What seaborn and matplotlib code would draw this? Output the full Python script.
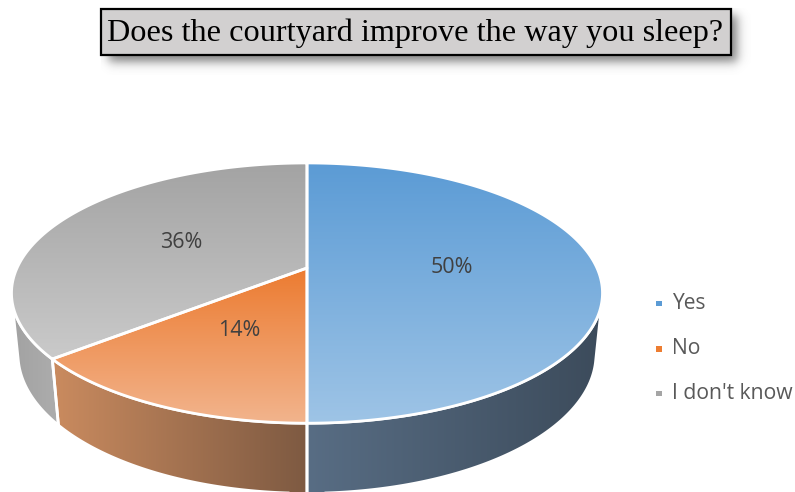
import numpy as np
import matplotlib
matplotlib.use("Agg")
import matplotlib.pyplot as plt
import seaborn as sns
from matplotlib.patches import Polygon, Rectangle

# Survey answers
categories = ["Yes", "No", "I don't know"]
shares = [50, 14, 36]
value_labels = ["50%", "14%", "36%"]
title = "Does the courtyard improve the way you sleep?"

# Colours: top-face gradient (upper -> lower) and side gradient (left -> right)
top_upper = ["#5B9BD5", "#EC7B30", "#A3A3A3"]
top_lower = ["#9EC4E6", "#F2B48D", "#CACACA"]
side_left = ["#586D84", "#CA8B5F", "#A2A2A2"]
side_right = ["#3C4B5B", "#7E5A42", "#ADADAD"]
legend_colors = ["#5B9BD5", "#ED7D31", "#A5A5A5"]

sns.set_theme(style="white")

W, H = 795, 492
fig = plt.figure(figsize=(W / 100, H / 100), dpi=100)
ax = fig.add_axes([0, 0, 1, 1])
ax.set_xlim(0, W)
ax.set_ylim(H, 0)
ax.axis("off")

# Perspective camera for the 3D pie
elev = np.radians(25.6)
dist = 4.68
scale = 1357.0
cx, cy = 307.0, 268.0
thickness = 0.235
fwd = np.array([0.0, np.cos(elev), -np.sin(elev)])
upv = np.array([0.0, np.sin(elev), np.cos(elev)])
cam = -dist * fwd


def project(x, y, z):
    p = np.stack(np.broadcast_arrays(x, y, z), axis=-1) - cam
    depth = p @ fwd
    return cx + scale * p[..., 0] / depth, cy - scale * (p @ upv) / depth


def rim(theta, z):
    # theta measured clockwise from the far (12 o'clock) point
    return project(np.sin(theta), np.cos(theta), z)


def gradient_fill(xy, c0, c1, vertical, zorder):
    poly = Polygon(xy, closed=True, facecolor="none", edgecolor="none",
                   transform=ax.transData)
    ax.add_patch(poly)
    cmap = sns.blend_palette([c0, c1], as_cmap=True)
    ramp = np.linspace(0, 1, 256)
    grid = ramp[:, None] if vertical else ramp[None, :]
    x0, y0 = xy.min(axis=0)
    x1, y1 = xy.max(axis=0)
    im = ax.imshow(grid, cmap=cmap, aspect="auto", interpolation="bilinear",
                   extent=(x0, x1, y1, y0), origin="upper", zorder=zorder)
    im.set_clip_path(poly)
    ax.add_patch(Polygon(xy, closed=True, facecolor="none", edgecolor="white",
                         linewidth=2.0, joinstyle="round", zorder=zorder + 0.5))


fractions = np.array(shares, dtype=float) / np.sum(shares)
bounds = np.concatenate([[0.0], np.cumsum(fractions)]) * 2 * np.pi

# The side wall faces the viewer where (cam - P) . n > 0
vis_cos = -1.0 / (dist * np.cos(elev))
vis_lo = np.arccos(vis_cos)
vis_hi = 2 * np.pi - vis_lo

# Side walls
for i in range(len(shares)):
    a0, a1 = max(bounds[i], vis_lo), min(bounds[i + 1], vis_hi)
    if a1 <= a0:
        continue
    t = np.linspace(a0, a1, 200)
    xt, yt = rim(t, 0.0)
    xb, yb = rim(t[::-1], -thickness)
    xy = np.column_stack([np.concatenate([xt, xb]), np.concatenate([yt, yb])])
    gradient_fill(xy, side_left[i], side_right[i], vertical=False, zorder=2)

# Top faces
for i in range(len(shares)):
    t = np.linspace(bounds[i], bounds[i + 1], 300)
    xt, yt = rim(t, 0.0)
    x0, y0 = project(0.0, 0.0, 0.0)
    xy = np.column_stack([np.concatenate([[x0], xt]), np.concatenate([[y0], yt])])
    gradient_fill(xy, top_upper[i], top_lower[i], vertical=True, zorder=4)

# Value labels halfway out along each slice's middle angle
for i, lab in enumerate(value_labels):
    mid = 0.5 * (bounds[i] + bounds[i + 1])
    lx, ly = project(0.5 * np.sin(mid), 0.5 * np.cos(mid), 0.0)
    ax.text(lx, ly, lab, ha="center", va="center", fontsize=15.5,
            family="Open Sans", color="#404040", zorder=6)

# Legend
leg_y = [303.5, 349.0, 393.5]
sns.scatterplot(x=[659.0] * len(categories), y=leg_y, hue=categories,
                palette=legend_colors, marker="s", s=14, linewidth=0,
                legend=False, ax=ax, zorder=6)
for name, yy in zip(categories, leg_y):
    ax.text(672, yy, name, ha="left", va="center", fontsize=15.2,
            family="Open Sans", color="#595959", zorder=6)

# Title box with a soft drop shadow
bx0, by0, bx1, by1 = 101.0, 8.5, 731.0, 55.0
gx = np.linspace(bx0, bx1 + 20, 400)
gy = np.linspace(by0, by1 + 20, 120)
sx, sy, soff = 3.0, 3.0, 7.0


def soft(v, lo, hi, s):
    return 1 / (1 + np.exp(-(v - lo) / s)) * 1 / (1 + np.exp((v - hi) / s))


alpha = soft(gy[:, None], by0 + soff, by1 + soff, sy) * soft(gx[None, :], bx0 + soff, bx1 + soff, sx)
shadow = np.zeros((len(gy), len(gx), 4))
shadow[..., :3] = 0.35
shadow[..., 3] = 0.75 * alpha
ax.imshow(shadow, extent=(gx[0], gx[-1], gy[-1], gy[0]), origin="upper",
          aspect="auto", interpolation="bilinear", zorder=7)
ax.add_patch(Rectangle((bx0, by0), bx1 - bx0, by1 - by0, facecolor="#D2D0D0",
                       edgecolor="black", linewidth=1.6, zorder=8))
ax.text(0.5 * (bx0 + bx1) - 1, 0.5 * (by0 + by1) + 1.5, title, ha="center",
        va="center", fontsize=23.2, family="Liberation Serif", color="black",
        zorder=9)

ax.set_xlim(0, W)
ax.set_ylim(H, 0)
fig.savefig("out.png", dpi=100)
